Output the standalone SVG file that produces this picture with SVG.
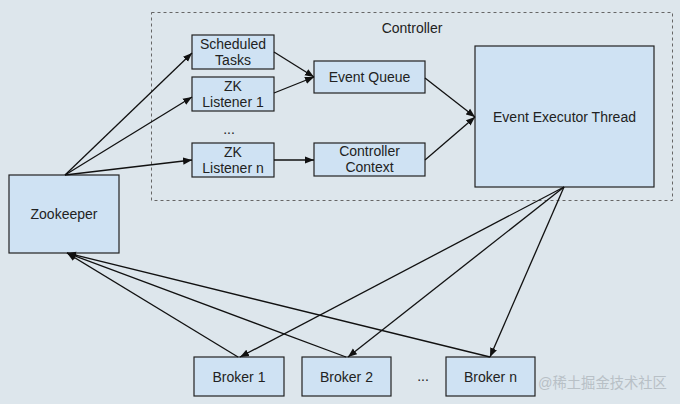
<svg xmlns="http://www.w3.org/2000/svg" width="680" height="404" viewBox="0 0 680 404">
<style>
.n{fill:#cfe2f3;stroke:#222;stroke-width:1.2}
.t{font-family:"Liberation Sans",Arial,sans-serif;font-size:14px;fill:#222;text-anchor:middle}
.c{stroke:#111;stroke-width:1.3;fill:none}
</style>
<defs>
<marker id="a" viewBox="0 0 10 10" refX="10" refY="5" markerWidth="9" markerHeight="9" orient="auto" markerUnits="userSpaceOnUse"><path d="M0,1 L10,5 L0,9 Z" fill="#111"/></marker>
</defs>
<rect width="680" height="404" fill="#dde6ec"/>
<g id="controller">
<rect x="151.5" y="12.5" width="521" height="188" fill="none" stroke="#666" stroke-dasharray="3,3"/>
<text class="t" x="412" y="33">Controller</text>
<text class="t" x="229" y="134">...</text>
</g>
<g id="scheduled"><rect class="n" x="192" y="35" width="82" height="34"/><text class="t" x="233" y="49">Scheduled</text><text class="t" x="233" y="65">Tasks</text></g>
<g id="zk1"><rect class="n" x="192" y="77" width="82" height="34"/><text class="t" x="233" y="91">ZK</text><text class="t" x="233" y="107">Listener 1</text></g>
<g id="zkn"><rect class="n" x="192" y="143" width="82" height="34"/><text class="t" x="233" y="157">ZK</text><text class="t" x="233" y="173">Listener n</text></g>
<g id="eventqueue"><rect class="n" x="314" y="61" width="111" height="32"/><text class="t" x="369.5" y="82">Event Queue</text></g>
<g id="ctxt"><rect class="n" x="314" y="143" width="111" height="33"/><text class="t" x="369.5" y="156">Controller</text><text class="t" x="369.5" y="172">Context</text></g>
<g id="eet"><rect class="n" x="475" y="46" width="179" height="141"/><text class="t" x="564.5" y="122">Event Executor Thread</text></g>
<g id="zookeeper"><rect class="n" x="9" y="175" width="110" height="78"/><text class="t" x="64" y="219">Zookeeper</text></g>
<g id="broker1"><rect class="n" x="194" y="357" width="90" height="39"/><text class="t" x="239" y="382">Broker 1</text></g>
<g id="broker2"><rect class="n" x="302" y="357" width="89" height="39"/><text class="t" x="346.5" y="382">Broker 2</text></g>
<g id="brokern"><rect class="n" x="446" y="357" width="89" height="39"/><text class="t" x="490.5" y="382">Broker n</text></g>
<text class="t" x="423" y="381">...</text>
<text x="538" y="388" font-family="'Liberation Sans','Noto Sans CJK SC',sans-serif" font-size="14.3" fill="#b8c0c6">@稀土掘金技术社区</text>
<g id="connectors" class="c">
<line class="c" x1="65" y1="175" x2="192" y2="53" marker-end="url(#a)"/>
<line class="c" x1="65" y1="175" x2="192" y2="97" marker-end="url(#a)"/>
<line class="c" x1="65" y1="175" x2="192" y2="160" marker-end="url(#a)"/>
<line class="c" x1="274" y1="52" x2="314" y2="77" marker-end="url(#a)"/>
<line class="c" x1="274" y1="93" x2="314" y2="77" marker-end="url(#a)"/>
<line class="c" x1="274" y1="160" x2="314" y2="160" marker-end="url(#a)"/>
<line class="c" x1="425" y1="78" x2="475" y2="117" marker-end="url(#a)"/>
<line class="c" x1="425" y1="160" x2="475" y2="117" marker-end="url(#a)"/>
<line class="c" x1="564" y1="187" x2="240" y2="357" marker-end="url(#a)"/>
<line class="c" x1="564" y1="187" x2="348" y2="357" marker-end="url(#a)"/>
<line class="c" x1="564" y1="187" x2="490" y2="357" marker-end="url(#a)"/>
<line class="c" x1="238" y1="357" x2="67" y2="253" marker-end="url(#a)"/>
<line class="c" x1="346" y1="357" x2="67" y2="253" marker-end="url(#a)"/>
<line class="c" x1="490" y1="357" x2="67" y2="253" marker-end="url(#a)"/>
</g>
</svg>
